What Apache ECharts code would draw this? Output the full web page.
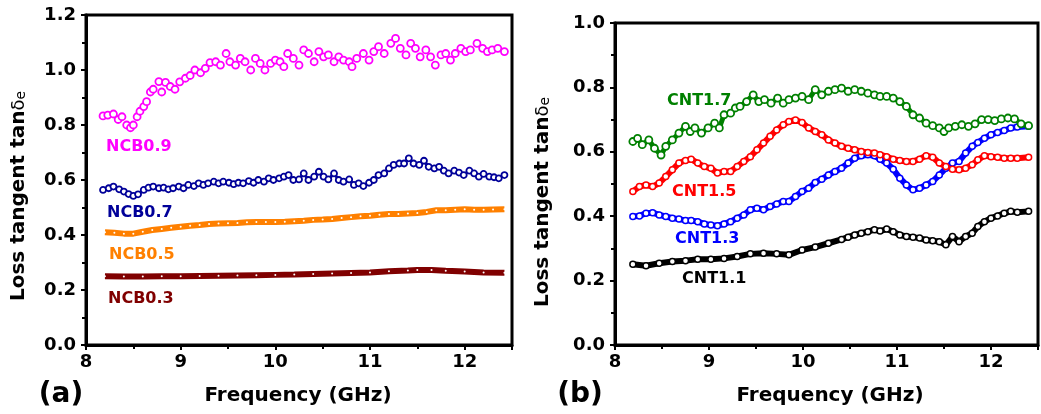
<!DOCTYPE html>
<html><head><meta charset="utf-8">
<script src="https://cdn.jsdelivr.net/npm/echarts@6/dist/echarts.min.js"></script>
<style>html,body{margin:0;padding:0;background:#fff}#c{width:1041px;height:414px}</style>
</head><body><div id="c"></div>
<script>
// ---------- DATA ----------
const xTicksA = [8, 9, 10, 11, 12];
const yTicksA = [0.0, 0.2, 0.4, 0.6, 0.8, 1.0, 1.2];
const yTicksB = [0.0, 0.2, 0.4, 0.6, 0.8, 1.0];

const NCB09 = [[8.18,0.833],[8.23,0.836],[8.29,0.84],[8.34,0.82],[8.38,0.83],[8.43,0.80],[8.47,0.79],[8.50,0.80],[8.54,0.83],[8.57,0.85],[8.61,0.867],[8.64,0.885],[8.68,0.92],[8.71,0.93],[8.77,0.958],[8.80,0.92],[8.84,0.955],[8.89,0.94],[8.94,0.93],[8.99,0.957],[9.05,0.97],[9.10,0.98],[9.15,1.0],[9.21,0.99],[9.26,1.006],[9.31,1.027],[9.37,1.03],[9.42,1.018],[9.48,1.06],[9.52,1.03],[9.58,1.018],[9.63,1.042],[9.68,1.03],[9.74,1.0],[9.79,1.042],[9.84,1.024],[9.89,1.0],[9.95,1.024],[10.0,1.036],[10.05,1.03],[10.09,1.012],[10.13,1.06],[10.19,1.042],[10.25,1.018],[10.30,1.073],[10.35,1.06],[10.41,1.03],[10.46,1.067],[10.51,1.048],[10.56,1.055],[10.62,1.03],[10.67,1.048],[10.72,1.036],[10.78,1.03],[10.81,1.012],[10.86,1.042],[10.93,1.06],[10.99,1.036],[11.04,1.067],[11.09,1.085],[11.15,1.06],[11.22,1.097],[11.27,1.115],[11.32,1.079],[11.38,1.055],[11.43,1.097],[11.48,1.079],[11.53,1.048],[11.59,1.073],[11.64,1.048],[11.69,1.018],[11.75,1.055],[11.80,1.06],[11.85,1.036],[11.90,1.06],[11.96,1.079],[12.01,1.067],[12.06,1.073],[12.13,1.097],[12.19,1.079],[12.24,1.067],[12.29,1.073],[12.35,1.079],[12.42,1.067]];

const NCB07 = [[8.18,0.564],[8.24,0.57],[8.29,0.576],[8.35,0.566],[8.40,0.558],[8.45,0.549],[8.50,0.542],[8.55,0.548],[8.61,0.564],[8.66,0.572],[8.71,0.576],[8.77,0.57],[8.82,0.572],[8.87,0.566],[8.92,0.57],[8.98,0.576],[9.03,0.57],[9.08,0.582],[9.14,0.578],[9.19,0.588],[9.24,0.582],[9.29,0.588],[9.35,0.594],[9.40,0.588],[9.45,0.594],[9.51,0.59],[9.56,0.585],[9.61,0.59],[9.66,0.588],[9.72,0.596],[9.77,0.59],[9.82,0.6],[9.88,0.594],[9.93,0.606],[9.98,0.6],[10.04,0.606],[10.09,0.612],[10.14,0.618],[10.19,0.6],[10.25,0.602],[10.30,0.624],[10.35,0.6],[10.41,0.612],[10.46,0.63],[10.51,0.612],[10.56,0.602],[10.62,0.624],[10.67,0.6],[10.72,0.594],[10.78,0.602],[10.83,0.582],[10.88,0.588],[10.93,0.578],[10.99,0.59],[11.04,0.6],[11.09,0.618],[11.15,0.624],[11.20,0.642],[11.25,0.655],[11.31,0.66],[11.36,0.66],[11.41,0.679],[11.46,0.66],[11.52,0.655],[11.57,0.67],[11.62,0.648],[11.68,0.642],[11.73,0.648],[11.78,0.634],[11.83,0.624],[11.89,0.634],[11.94,0.627],[11.99,0.618],[12.05,0.634],[12.10,0.624],[12.15,0.612],[12.20,0.622],[12.26,0.612],[12.31,0.61],[12.36,0.606],[12.42,0.618]];

const NCB05 = [[8.2,0.41],[8.3,0.408],[8.4,0.405],[8.5,0.405],[8.6,0.412],[8.7,0.418],[8.8,0.422],[8.9,0.426],[9.0,0.43],[9.1,0.434],[9.2,0.436],[9.3,0.44],[9.4,0.442],[9.5,0.443],[9.6,0.444],[9.7,0.446],[9.8,0.447],[9.9,0.447],[10.0,0.447],[10.1,0.448],[10.2,0.45],[10.3,0.452],[10.4,0.455],[10.5,0.456],[10.6,0.458],[10.7,0.462],[10.8,0.465],[10.9,0.468],[11.0,0.47],[11.1,0.474],[11.2,0.476],[11.3,0.476],[11.4,0.478],[11.5,0.48],[11.6,0.484],[11.7,0.49],[11.8,0.49],[11.9,0.492],[12.0,0.494],[12.1,0.492],[12.2,0.492],[12.3,0.493],[12.42,0.494]];

const NCB03 = [[8.2,0.25],[8.4,0.249],[8.6,0.249],[8.8,0.25],[9.0,0.25],[9.2,0.251],[9.4,0.252],[9.6,0.253],[9.8,0.254],[10.0,0.255],[10.2,0.256],[10.4,0.258],[10.6,0.26],[10.8,0.262],[11.0,0.264],[11.2,0.268],[11.4,0.271],[11.5,0.273],[11.65,0.273],[11.8,0.27],[12.0,0.267],[12.2,0.264],[12.42,0.263]];

const CNT17 = [[8.19,0.632],[8.24,0.642],[8.29,0.622],[8.36,0.637],[8.42,0.611],[8.49,0.59],[8.54,0.617],[8.61,0.637],[8.68,0.658],[8.75,0.679],[8.80,0.663],[8.85,0.674],[8.92,0.658],[8.99,0.674],[9.06,0.689],[9.11,0.674],[9.16,0.715],[9.23,0.72],[9.28,0.736],[9.33,0.741],[9.40,0.756],[9.47,0.777],[9.53,0.756],[9.59,0.762],[9.66,0.751],[9.73,0.767],[9.79,0.751],[9.85,0.762],[9.92,0.767],[9.99,0.772],[10.06,0.762],[10.13,0.793],[10.20,0.777],[10.27,0.788],[10.34,0.793],[10.41,0.798],[10.48,0.788],[10.55,0.793],[10.62,0.788],[10.69,0.782],[10.76,0.777],[10.82,0.772],[10.89,0.772],[10.96,0.767],[11.03,0.756],[11.10,0.741],[11.17,0.715],[11.24,0.705],[11.31,0.689],[11.38,0.681],[11.45,0.674],[11.50,0.663],[11.55,0.674],[11.62,0.679],[11.69,0.684],[11.76,0.679],[11.83,0.687],[11.90,0.70],[11.97,0.70],[12.04,0.697],[12.11,0.702],[12.18,0.705],[12.25,0.702],[12.32,0.687],[12.40,0.681]];

const CNT15 = [[8.19,0.477],[8.26,0.492],[8.33,0.497],[8.40,0.492],[8.47,0.503],[8.54,0.523],[8.61,0.544],[8.68,0.565],[8.75,0.573],[8.81,0.577],[8.88,0.565],[8.95,0.554],[9.02,0.549],[9.09,0.534],[9.16,0.539],[9.23,0.539],[9.30,0.554],[9.37,0.57],[9.44,0.585],[9.51,0.606],[9.58,0.627],[9.65,0.648],[9.72,0.668],[9.79,0.684],[9.85,0.694],[9.92,0.699],[9.99,0.691],[10.06,0.674],[10.13,0.663],[10.20,0.653],[10.27,0.637],[10.34,0.627],[10.41,0.617],[10.48,0.611],[10.55,0.606],[10.62,0.601],[10.69,0.598],[10.76,0.596],[10.82,0.591],[10.89,0.585],[10.96,0.577],[11.03,0.573],[11.10,0.57],[11.17,0.57],[11.24,0.577],[11.31,0.588],[11.38,0.583],[11.45,0.565],[11.52,0.554],[11.59,0.546],[11.66,0.544],[11.73,0.549],[11.80,0.56],[11.86,0.575],[11.93,0.588],[12.00,0.585],[12.07,0.583],[12.14,0.58],[12.21,0.58],[12.28,0.58],[12.40,0.583]];

const CNT13 = [[8.19,0.399],[8.26,0.401],[8.33,0.409],[8.40,0.411],[8.47,0.404],[8.54,0.399],[8.61,0.394],[8.68,0.391],[8.75,0.387],[8.81,0.387],[8.88,0.383],[8.95,0.376],[9.02,0.373],[9.09,0.37],[9.16,0.376],[9.23,0.383],[9.30,0.394],[9.37,0.404],[9.44,0.42],[9.51,0.425],[9.58,0.42],[9.65,0.43],[9.72,0.438],[9.79,0.446],[9.85,0.446],[9.92,0.461],[9.99,0.477],[10.06,0.487],[10.13,0.505],[10.20,0.515],[10.27,0.528],[10.34,0.539],[10.41,0.549],[10.48,0.565],[10.55,0.58],[10.62,0.588],[10.69,0.591],[10.76,0.588],[10.82,0.577],[10.89,0.565],[10.96,0.546],[11.03,0.518],[11.10,0.497],[11.17,0.482],[11.24,0.487],[11.31,0.497],[11.38,0.508],[11.45,0.528],[11.52,0.549],[11.59,0.565],[11.66,0.57],[11.73,0.596],[11.80,0.617],[11.86,0.629],[11.93,0.642],[12.00,0.653],[12.07,0.66],[12.14,0.666],[12.21,0.674],[12.28,0.677],[12.40,0.679]];

const CNT11 = [[8.19,0.251],[8.33,0.246],[8.47,0.254],[8.61,0.259],[8.75,0.262],[8.88,0.266],[9.02,0.266],[9.16,0.269],[9.30,0.275],[9.44,0.283],[9.58,0.285],[9.72,0.283],[9.85,0.28],[9.99,0.295],[10.13,0.304],[10.27,0.316],[10.41,0.328],[10.48,0.335],[10.55,0.342],[10.62,0.347],[10.69,0.352],[10.76,0.358],[10.82,0.354],[10.89,0.36],[10.96,0.352],[11.03,0.342],[11.10,0.337],[11.17,0.335],[11.24,0.332],[11.31,0.326],[11.38,0.324],[11.45,0.321],[11.52,0.311],[11.59,0.337],[11.66,0.321],[11.73,0.337],[11.80,0.347],[11.86,0.368],[11.93,0.383],[12.00,0.394],[12.07,0.401],[12.14,0.409],[12.21,0.415],[12.28,0.412],[12.40,0.415]];

const seriesNames = ['NCB0.9','NCB0.7','NCB0.5','NCB0.3','CNT1.7','CNT1.5','CNT1.3','CNT1.1'];
const xTitle = 'Frequency (GHz)';

// ---------- CHART ----------
const FONT = 'DejaVu Sans';
const chart = echarts.init(document.getElementById('c'), null, {renderer: 'canvas'});

function xAxisCfg(gi) {
  return {
    type: 'value', gridIndex: gi, min: 8, max: 12.5, interval: 1,
    axisLine: {show: true, onZero: false, lineStyle: {color: '#000', width: 3}},
    axisTick: {show: true, inside: false, length: 5, lineStyle: {color: '#000', width: 2}},
    minorTick: {show: true, splitNumber: 2, length: 4, lineStyle: {color: '#000', width: 2}},
    splitLine: {show: false},
    axisLabel: {color: '#000', fontFamily: FONT, fontWeight: 'bold', fontSize: 18, margin: 8,
      formatter: v => (xTicksA.indexOf(v) >= 0 ? String(v) : '')}
  };
}
function yAxisCfg(gi, ticks) {
  return {
    type: 'value', gridIndex: gi, min: ticks[0], max: ticks[ticks.length - 1], interval: 0.2,
    axisLine: {show: true, onZero: false, lineStyle: {color: '#000', width: 3}},
    axisTick: {show: true, inside: false, length: 5, lineStyle: {color: '#000', width: 2}},
    minorTick: {show: true, splitNumber: 2, length: 4, lineStyle: {color: '#000', width: 2}},
    splitLine: {show: false},
    axisLabel: {color: '#000', fontFamily: FONT, fontWeight: 'bold', fontSize: 18, margin: 10,
      formatter: v => v.toFixed(1)}
  };
}

function dots(name, data, color, xi, size, bw, lw) {
  return {
    name, type: 'line', xAxisIndex: xi, yAxisIndex: xi, data,
    symbol: 'circle', symbolSize: size, showSymbol: true, showAllSymbol: true,
    itemStyle: {color: '#fff', borderColor: color, borderWidth: bw},
    lineStyle: {color: color, width: lw, opacity: lw > 0 ? 1 : 0},
    animation: false, silent: true
  };
}

const labelsCfg = [
  {t: seriesNames[0], x: 106, y: 147, c: '#FF00FF'},
  {t: seriesNames[1], x: 107, y: 213, c: '#000099'},
  {t: seriesNames[2], x: 109, y: 255, c: '#FF8000'},
  {t: seriesNames[3], x: 108, y: 299, c: '#800000'},
  {t: seriesNames[4], x: 667, y: 101, c: '#008000'},
  {t: seriesNames[5], x: 672, y: 192, c: '#FF0000'},
  {t: seriesNames[6], x: 675, y: 239, c: '#0000FF'},
  {t: seriesNames[7], x: 682, y: 279, c: '#000000'}
];

const graphics = labelsCfg.map(l => ({
  type: 'text', x: l.x, y: l.y, silent: true,
  style: {text: l.t, fill: l.c, font: 'bold 16px "DejaVu Sans"', textAlign: 'left', textVerticalAlign: 'middle'}
}));

function yTitle(x, y) {
  return {
    type: 'text', x, y, rotation: Math.PI / 2, silent: true,
    style: {
      text: '{a|Loss tangent tan}{b|δ}{c|e}', textAlign: 'center', textVerticalAlign: 'middle',
      rich: {
        a: {font: 'bold 20px "DejaVu Sans"', fill: '#000'},
        b: {font: '18px "DejaVu Sans"', fill: '#000'},
        c: {font: '14px "DejaVu Sans"', fill: '#000', padding: [4, 0, 0, 0]}
      }
    }
  };
}
graphics.push(yTitle(19, 196));
graphics.push(yTitle(543, 202));
graphics.push({type: 'text', x: 298, y: 396, silent: true,
  style: {text: xTitle, font: 'bold 20px "DejaVu Sans"', fill: '#000', textAlign: 'center', textVerticalAlign: 'middle'}});
graphics.push({type: 'text', x: 830, y: 396, silent: true,
  style: {text: xTitle, font: 'bold 20px "DejaVu Sans"', fill: '#000', textAlign: 'center', textVerticalAlign: 'middle'}});
graphics.push({type: 'text', x: 61, y: 395, silent: true,
  style: {text: '(a)', font: 'bold 28px "DejaVu Sans"', fill: '#000', textAlign: 'center', textVerticalAlign: 'middle'}});
graphics.push({type: 'text', x: 580, y: 395, silent: true,
  style: {text: '(b)', font: 'bold 28px "DejaVu Sans"', fill: '#000', textAlign: 'center', textVerticalAlign: 'middle'}});

const option = {
  animation: false,
  backgroundColor: '#fff',
  grid: [
    {left: 86, top: 15, width: 426, height: 330, show: true, borderColor: '#000', borderWidth: 3, backgroundColor: 'transparent'},
    {left: 615, top: 23, width: 431, height: 322, show: true, borderColor: '#000', borderWidth: 3, backgroundColor: 'transparent'}
  ],
  xAxis: [xAxisCfg(0), xAxisCfg(1)],
  yAxis: [yAxisCfg(0, yTicksA), yAxisCfg(1, yTicksB)],
  series: [
    dots(seriesNames[3], NCB03, '#800000', 0, 2, 0, 6),
    dots(seriesNames[2], NCB05, '#FF8000', 0, 2, 0, 6),
    dots(seriesNames[1], NCB07, '#000099', 0, 6, 1.8, 3),
    dots(seriesNames[0], NCB09, '#FF00FF', 0, 7, 1.8, 0),
    dots(seriesNames[7], CNT11, '#000000', 1, 6, 1.5, 6),
    dots(seriesNames[6], CNT13, '#0000FF', 1, 6, 1.5, 6),
    dots(seriesNames[5], CNT15, '#FF0000', 1, 6, 1.5, 6),
    dots(seriesNames[4], CNT17, '#008000', 1, 7, 1.8, 5)
  ],
  graphic: graphics
};
chart.setOption(option);
</script>
</body></html>
